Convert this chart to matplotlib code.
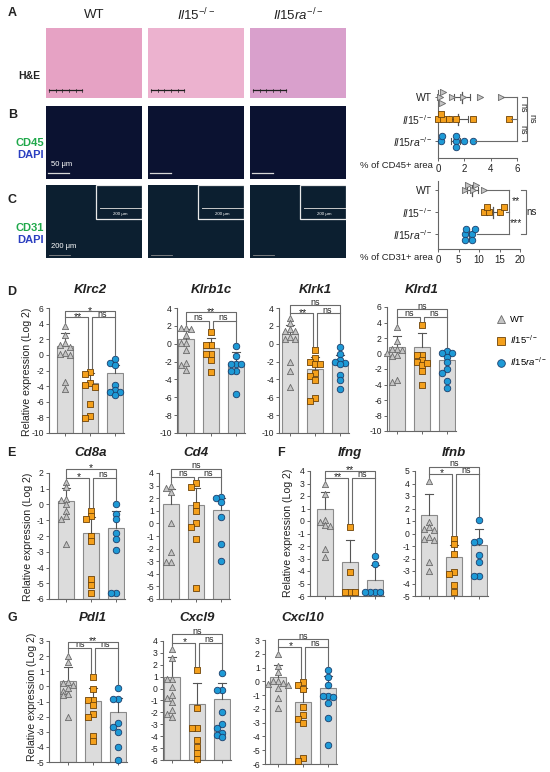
import numpy as np
import matplotlib
matplotlib.use("Agg")
import matplotlib.pyplot as plt
from matplotlib.lines import Line2D
from matplotlib.patches import Rectangle

plt.rcParams.update({
    "font.family": ["Liberation Sans", "DejaVu Sans"],
    "axes.unicode_minus": False,
    "mathtext.fontset": "custom",
    "mathtext.rm": "Liberation Sans",
    "mathtext.it": "Liberation Sans:italic",
    "mathtext.bf": "Liberation Sans:bold",
})

# ------------------------------------------------------------------ data
GROUP_LABELS = ["WT", r"$\mathit{Il15}^{-/-}$", r"$\mathit{Il15ra}^{-/-}$"]

# right-hand dot plots (% area)
CD45_WT = [0.17, 0.41, 0.3, 1.1, 1.9, 3.2, 4.8]
CD45_IL15 = [0.0, 0.37, 0.2, 0.85, 1.4, 2.65, 5.4]
CD45_IL15RA = [0.2, 0.3, 1.4, 1.4, 1.4, 1.95, 2.65]
CD45_MEAN = [1.8, 1.55, 1.35]
CD45_SEM = [0.6, 0.75, 0.35]
CD45_TICKS = [0, 2, 4, 6]

CD31_WT = [6.6, 8.6, 11.1, 7.4, 9.3]
CD31_IL15 = [11.1, 12.5, 15.2, 11.9, 16.0]
CD31_IL15RA = [6.5, 8.2, 6.9, 9.0, 6.6, 8.4]
CD31_MEAN = [8.4, 13.4, 7.6]
CD31_SEM = [1.3, 1.4, 0.8]
CD31_TICKS = [0, 5, 10, 15, 20]

# qPCR bar panels
KLRC2_WT = [3.7, 2.6, 1.5, 1.3, 1.0, 0.2, 0.1, 0.0, -3.5, -4.4]
KLRC2_IL15 = [-2.2, -2.4, -3.6, -3.8, -4.1, -6.3, -7.8, -8.1]
KLRC2_IL15RA = [-0.5, -1.0, -1.3, -3.8, -4.5, -4.7, -4.7, -5.1]
KLRC2_MEAN = [1.2, -3.6, -2.3]
KLRC2_ERR = [1.6, 1.3, 1.0]
KLRC2_BRK = [4.8, 5.6]
KLRC2_SIG = ["*", "**", "ns"]

KLRB1C_WT = [1.8, 1.8, 1.7, 1.0, 0.1, 0.1, -0.7, -2.2, -2.4, -2.9]
KLRB1C_IL15 = [1.3, -0.1, -0.1, -1.2, -1.2, -1.8, -3.2]
KLRB1C_IL15RA = [-0.2, -1.4, -2.3, -2.3, -2.3, -3.1, -3.1, -5.6]
KLRB1C_MEAN = [0.5, -0.5, -2.3]
KLRB1C_ERR = [1.2, 1.1, 1.4]
KLRB1C_BRK = [2.55, 3.5]
KLRB1C_SIG = ["**", "ns", "ns"]

KLRK1_WT = [2.9, 2.3, 1.7, 1.4, 1.4, 0.8, 0.5, 0.5, -2.0, -3.1, -4.8]
KLRK1_IL15 = [-0.7, -1.6, -2.0, -2.3, -2.3, -3.3, -3.6, -4.1, -6.1, -6.4]
KLRK1_IL15RA = [-0.4, -1.1, -1.8, -2.0, -2.2, -2.3, -3.5, -4.1, -5.1]
KLRK1_MEAN = [1.1, -2.8, -2.0]
KLRK1_ERR = [1.0, 1.3, 0.7]
KLRK1_BRK = [3.4, 4.3]
KLRK1_SIG = ["ns", "**", "ns"]

KLRD1_WT = [3.4, 1.6, 0.6, 0.6, 0.5, 0.05, -0.2, -0.3, -3.4, -3.7]
KLRD1_IL15 = [3.7, -0.2, -0.2, -0.8, -1.1, -1.5, -1.2, -2.3, -4.0]
KLRD1_IL15RA = [0.3, 0.1, 0.1, -0.5, -1.1, -2.0, -2.5, -3.5, -4.4]
KLRD1_MEAN = [0.9, 0.9, -0.9]
KLRD1_ERR = [1.4, 1.7, 1.0]
KLRD1_BRK = [4.7, 5.7]
KLRD1_SIG = ["ns", "ns", "ns"]

CD8A_WT = [1.4, 1.1, 0.35, 0.3, 0.0, -0.4, -0.7, -0.9, -2.5]
CD8A_IL15 = [-0.4, -0.7, -0.95, -2.0, -2.3, -4.7, -5.1, -5.6]
CD8A_IL15RA = [0.0, -0.6, -0.9, -1.8, -2.2, -2.9, -5.6, -5.6]
CD8A_MEAN = [0.2, -1.8, -1.5]
CD8A_ERR = [0.85, 1.0, 1.1]
CD8A_BRK = [1.68, 2.25]
CD8A_SIG = ["*", "*", "ns"]

CD4_WT = [3.0, 2.8, 2.5, 0.0, -2.3, -3.1, -3.1]
CD4_IL15 = [3.2, 2.9, 1.5, 1.0, 0.0, -0.3, -1.2, -5.1]
CD4_IL15RA = [2.1, 2.0, 1.7, 0.5, -1.6, -3.0]
CD4_MEAN = [1.55, 1.5, 1.1]
CD4_ERR = [1.2, 1.3, 0.9]
CD4_BRK = [3.7, 4.3]
CD4_SIG = ["ns", "ns", "ns"]

IFNG_WT = [3.0, 2.2, 0.1, -0.1, -0.3, -0.4, -2.2, -2.9]
IFNG_IL15 = [-0.5, -4.1, -5.7, -5.7, -5.7]
IFNG_IL15RA = [-2.8, -3.4, -5.7, -5.7, -5.7, -5.7]
IFNG_MEAN = [1.0, -3.3, -4.7]
IFNG_ERR = [1.3, 1.8, 1.2]
IFNG_BRK = [3.45, 4.0]
IFNG_SIG = ["**", "**", "ns"]

IFNB_WT = [4.2, 0.9, 0.5, 0.4, 0.3, -0.3, -0.4, -0.5, -2.3, -3.0]
IFNB_IL15 = [-0.4, -0.8, -1.6, -3.1, -3.2, -4.1, -4.7]
IFNB_IL15RA = [1.1, -0.6, -0.7, -1.7, -2.3, -3.4, -3.4]
IFNB_MEAN = [1.5, -1.9, -0.9]
IFNB_ERR = [1.7, 1.0, 1.3]
IFNB_BRK = [4.8, 5.3]
IFNB_SIG = ["ns", "*", "ns"]

PDL1_WT = [2.0, 1.6, 0.3, 0.2, 0.1, -0.1, -0.3, -0.5, -0.6, -2.0]
PDL1_IL15 = [0.6, -0.2, -0.9, -0.9, -1.25, -1.85, -2.0, -3.3, -3.6]
PDL1_IL15RA = [-0.1, -0.85, -0.85, -2.45, -2.7, -3.0, -4.0, -4.9]
PDL1_MEAN = [0.35, -0.95, -1.7]
PDL1_ERR = [0.95, 0.85, 0.9]
PDL1_BRK = [2.54, 2.93]
PDL1_SIG = ["**", "ns", "ns"]

CXCL9_WT = [3.3, 2.6, 0.8, 0.8, 0.1, -0.5, -0.8, -1.1, -1.8, -2.1, -2.4]
CXCL9_IL15 = [1.55, -1.6, -3.3, -3.3, -4.3, -4.9, -5.4, -5.9]
CXCL9_IL15RA = [1.3, -0.1, -0.1, -1.95, -3.0, -3.3, -3.7, -3.9, -4.1]
CXCL9_MEAN = [1.0, -1.3, -0.9]
CXCL9_ERR = [1.65, 1.8, 1.4]
CXCL9_BRK = [3.86, 4.56]
CXCL9_SIG = ["ns", "*", "ns"]

CXCL10_WT = [2.0, 1.1, 0.7, 0.0, 0.0, -0.1, -0.2, -0.3, -0.5, -1.2, -1.9]
CXCL10_IL15 = [-0.05, -0.3, -0.55, -1.85, -2.45, -2.75, -3.05, -5.55, -5.75]
CXCL10_IL15RA = [0.8, 0.35, -0.25, -1.05, -1.05, -1.15, -1.6, -2.65, -4.6]
CXCL10_MEAN = [0.3, -1.5, -0.5]
CXCL10_ERR = [0.9, 1.0, 0.9]
CXCL10_BRK = [2.52, 3.05]
CXCL10_SIG = ["ns", "*", "ns"]

# ------------------------------------------------------------------ styles
W, H = 550, 772
fig = plt.figure(figsize=(W / 100, H / 100), dpi=100)
fig.patch.set_facecolor("white")

BAR_FACE = "#dcdcdc"
BAR_EDGE = "#8a8a8a"
ERR_C = "#555555"
BRK_C = "#6a6a6a"
TXT_C = "#222222"
STYLES = [
    dict(marker="^", s=20, facecolor="#c4c4c4", edgecolor="#6a6a6a"),
    dict(marker="s", s=18, facecolor="#f4a01c", edgecolor="#6e4308"),
    dict(marker="o", s=22, facecolor="#1e9ad6", edgecolor="#1b3f6c"),
]


def axpx(x0, y0, x1, y1):
    return fig.add_axes([x0 / W, 1 - y1 / H, (x1 - x0) / W, (y1 - y0) / H])


def ftext(x, y, s, **kw):
    kw.setdefault("color", TXT_C)
    fig.text(x / W, 1 - y / H, s, **kw)


def swarm(vals, ppu, d=5.0, maxk=2):
    """Prism-like column placement: shift a point sideways only when it
    would sit on top of an already placed point."""
    placed, offs = [], []
    thr = (0.82 * d) ** 2
    for v in vals:
        y = v * ppu
        best, best_c = 0.0, None
        for k in [0, -1, 1, -2, 2, -3, 3][: 2 * maxk + 1]:
            x = k * d
            c = sum(1 for a, b in placed if (x - a) ** 2 + (y - b) ** 2 < thr)
            if c == 0:
                best = x
                best_c = 0
                break
            if best_c is None or c < best_c:
                best, best_c = x, c
        placed.append((best, y))
        offs.append(best)
    return np.array(offs)


# ------------------------------------------------------------------ A/B/C images
IMG_X = [46, 148, 250]
IMG_W = 96
HE_COLORS = ["#e6a2c4", "#ecb2cf", "#d9a0cc"]
B_COLOR = "#0b1231"
C_COLOR = "#0c1f30"

for j, x in enumerate(IMG_X):
    ax = axpx(x, 28, x + IMG_W, 98)
    ax.set_facecolor(HE_COLORS[j])
    ax.set_xticks([]); ax.set_yticks([])
    for s in ax.spines.values():
        s.set_visible(False)
    ax.plot([0.03, 0.38], [0.11, 0.11], transform=ax.transAxes, color="#202020", lw=0.9)
    for t in np.linspace(0.03, 0.38, 6):
        ax.plot([t, t], [0.08, 0.13], transform=ax.transAxes, color="#202020", lw=0.5)

    ax = axpx(x, 106, x + IMG_W, 179)
    ax.set_facecolor(B_COLOR)
    ax.set_xticks([]); ax.set_yticks([])
    for s in ax.spines.values():
        s.set_visible(False)
    ax.plot([0.02, 0.24], [0.085, 0.085], transform=ax.transAxes, color="#d8d8d8", lw=0.9)
    if j == 0:
        ax.text(0.05, 0.2, "50 μm", transform=ax.transAxes, color="white", fontsize=5.5, va="center")

    ax = axpx(x, 185, x + IMG_W, 258)
    ax.set_facecolor(C_COLOR)
    ax.set_xticks([]); ax.set_yticks([])
    for s in ax.spines.values():
        s.set_visible(False)
    ax.plot([0.03, 0.25], [0.045, 0.045], transform=ax.transAxes, color="#8a8a8a", lw=0.6)
    if j == 0:
        ax.text(0.05, 0.16, "200 μm", transform=ax.transAxes, color="white", fontsize=5.5, va="center")
    ax.add_patch(Rectangle((0.52, 0.54), 0.48, 0.46, transform=ax.transAxes,
                           facecolor=C_COLOR, edgecolor="#e8e8e8", lw=0.9))
    ax.plot([0.56, 1.0], [0.68, 0.68], transform=ax.transAxes, color="#c8c8c8", lw=0.7)
    ax.text(0.77, 0.6, "200 μm", transform=ax.transAxes, color="white", fontsize=3.2,
            ha="center", va="center")

ftext(8, 13, "A", fontsize=9, fontweight="bold", va="center")
for j, lab in enumerate(GROUP_LABELS):
    ftext(IMG_X[j] + IMG_W / 2, 15, lab, fontsize=9.5, ha="center", va="center")
ftext(40, 76, "H&E", fontsize=7.5, fontweight="bold", ha="right", va="center")
ftext(8, 115, "B", fontsize=9, fontweight="bold", va="center")
ftext(44, 143, "CD45", fontsize=8, fontweight="bold", ha="right", va="center", color="#1fa84a")
ftext(44, 155, "DAPI", fontsize=8, fontweight="bold", ha="right", va="center", color="#2b3fc0")
ftext(8, 200, "C", fontsize=9, fontweight="bold", va="center")
ftext(44, 228, "CD31", fontsize=8, fontweight="bold", ha="right", va="center", color="#1fa84a")
ftext(44, 240, "DAPI", fontsize=8, fontweight="bold", ha="right", va="center", color="#2b3fc0")


# ------------------------------------------------------------------ right dot plots
def dot_panel(x0, x1, top_y, bot_y, cat0_y, groups, means, sems, ticks, xlabel):
    sp = 22.0
    ax = axpx(x0, top_y, x1, bot_y)
    xmax = ticks[-1]
    ax.set_xlim(0, xmax)
    ax.set_ylim(2 + (bot_y - (cat0_y + 2 * sp)) / sp, -(cat0_y - top_y) / sp)
    ppu = (x1 - x0) / xmax
    for i, vals in enumerate(groups):
        st = dict(STYLES[i])
        if i == 0:
            st["marker"] = ">"
        offs = swarm(vals, ppu, d=5.5, maxk=1) / sp
        ax.scatter(vals, i + offs, lw=0.6, zorder=3, clip_on=False, **st)
        m, e = means[i], sems[i]
        ax.plot([m - e, m + e], [i, i], color=ERR_C, lw=0.8, zorder=2)
        for xx in (m - e, m + e):
            ax.plot([xx, xx], [i - 0.12, i + 0.12], color=ERR_C, lw=0.8, zorder=2)
        ax.plot([m, m], [i - 0.25, i + 0.25], color=ERR_C, lw=0.9, zorder=2)
    for s in ("top", "right"):
        ax.spines[s].set_visible(False)
    for s in ("left", "bottom"):
        ax.spines[s].set_color("#666666")
        ax.spines[s].set_linewidth(0.8)
    ax.set_yticks([0, 1, 2])
    ax.set_yticklabels(GROUP_LABELS, fontsize=7.5, color=TXT_C)
    ax.set_xticks(ticks)
    ax.set_xticklabels([str(t) for t in ticks], fontsize=7, color=TXT_C)
    ax.tick_params(length=2.5, width=0.7, pad=1.5, color="#666666")
    ftext(x0 - 5, bot_y + 8, xlabel, fontsize=6.8, ha="right", va="center")
    return ax


kw = dict(color=BRK_C, lw=0.8, clip_on=False, zorder=4)
ax45 = dot_panel(438, 517, 90, 158, 97, [CD45_WT, CD45_IL15, CD45_IL15RA],
                 CD45_MEAN, CD45_SEM, CD45_TICKS, "% of CD45+ area")
for i, vals in enumerate([CD45_WT, CD45_IL15, CD45_IL15RA]):
    ax45.plot([max(vals) + 0.15, 6.0], [i, i], **kw)
ax45.plot([6.0, 6.0], [0, 2], **kw)
ax45.text(6.45, 0.5, "ns", rotation=-90, ha="center", va="center", fontsize=6.5, color=TXT_C)
ax45.text(6.45, 1.5, "ns", rotation=-90, ha="center", va="center", fontsize=6.5, color=TXT_C)
ax45.plot([6.35, 6.75, 6.75, 6.35], [0, 0, 2, 2], **kw)
ax45.text(7.15, 1.0, "ns", rotation=-90, ha="center", va="center", fontsize=6.5, color=TXT_C)

ax31 = dot_panel(438, 520, 181, 249, 190, [CD31_WT, CD31_IL15, CD31_IL15RA],
                 CD31_MEAN, CD31_SEM, CD31_TICKS, "% of CD31+ area")
for i, vals in enumerate([CD31_WT, CD31_IL15, CD31_IL15RA]):
    ax31.plot([max(vals) + 0.5, 17.2], [i, i], **kw)
ax31.plot([17.2, 17.2], [0, 2], **kw)
ax31.text(18.9, 0.5, "**", ha="center", va="center", fontsize=7.5, color=TXT_C)
ax31.text(18.9, 1.5, "***", ha="center", va="center", fontsize=7.5, color=TXT_C)
ax31.plot([20.3, 21.5, 21.5, 20.3], [0, 0, 2, 2], **kw)
ax31.text(22.9, 1.0, "ns", ha="center", va="center", fontsize=7, color=TXT_C)

# ------------------------------------------------------------------ bar panels
SP, BW = 25.0, 16.0


def bar_panel(name, spine_x, bar1_x, top_y, bot_y, ylo, yhi, step,
              groups, means, errs, brk, sig, title_y):
    left = -(bar1_x - spine_x) / SP
    right = 2 + 9.0 / SP
    ax = axpx(spine_x, top_y, spine_x + (right - left) * SP, bot_y)
    ax.set_xlim(left, right)
    ax.set_ylim(ylo, yhi)
    ppu = (bot_y - top_y) / (yhi - ylo)
    ax.bar(range(3), [m - ylo for m in means], bottom=ylo, width=BW / SP,
           color=BAR_FACE, edgecolor=BAR_EDGE, linewidth=0.8, zorder=1)
    for i, (m, e) in enumerate(zip(means, errs)):
        ax.plot([i, i], [m, m + e], color=ERR_C, lw=0.8, zorder=2)
        ax.plot([i - 0.17, i + 0.17], [m + e, m + e], color=ERR_C, lw=0.8, zorder=2)
    for i, vals in enumerate(groups):
        offs = swarm(vals, ppu, d=5.2, maxk=2) / SP
        ax.scatter(i + offs, vals, lw=0.6, zorder=3, clip_on=False, **STYLES[i])
    gap = 4.0 / ppu
    tops = [max(max(g), m + e) + gap for g, m, e in zip(groups, means, errs)]
    h_in, h_out = brk
    d = 0.07
    k = dict(color=BRK_C, lw=0.8, clip_on=False, zorder=4)
    ax.plot([0, 0, 2, 2], [tops[0], h_out, h_out, tops[2]], **k)
    ax.plot([0, 1 - d, 1 - d], [h_in, h_in, tops[1]], **k)
    ax.plot([1 + d, 1 + d, 2], [tops[1], h_in, h_in], **k)

    def lab(x, y, s):
        if "*" in s:
            ax.text(x, y - 2.5 / ppu, s, ha="center", va="baseline", fontsize=7.5,
                    color=TXT_C, clip_on=False)
        else:
            ax.text(x, y + 0.8 / ppu, s, ha="center", va="baseline", fontsize=6.5,
                    color=TXT_C, clip_on=False)

    lab(1, h_out, sig[0])
    lab(0.5, h_in, sig[1])
    lab(1.5, h_in, sig[2])
    for s in ("top", "right"):
        ax.spines[s].set_visible(False)
    for s in ("left", "bottom"):
        ax.spines[s].set_color("#666666")
        ax.spines[s].set_linewidth(0.8)
    yt = np.arange(ylo, yhi + step / 2, step)
    ax.set_yticks(yt)
    ax.set_yticklabels([str(int(t)) for t in yt], fontsize=6.2, color=TXT_C)
    ax.set_xticks(range(3))
    ax.set_xticklabels([])
    ax.tick_params(length=2.5, width=0.7, pad=1.2, color="#666666")
    ftext(bar1_x + SP, title_y, name, fontsize=9.5, fontweight="bold", style="italic",
          ha="center", va="center")
    return ax


PANELS = [
    ("Klrc2", 49, 65, 308, 433, -10, 6, 2, [KLRC2_WT, KLRC2_IL15, KLRC2_IL15RA], KLRC2_MEAN, KLRC2_ERR, KLRC2_BRK, KLRC2_SIG, 290),
    ("Klrb1c", 177, 186, 308, 433, -10, 4, 2, [KLRB1C_WT, KLRB1C_IL15, KLRB1C_IL15RA], KLRB1C_MEAN, KLRB1C_ERR, KLRB1C_BRK, KLRB1C_SIG, 290),
    ("Klrk1", 279, 290, 308, 433, -10, 4, 2, [KLRK1_WT, KLRK1_IL15, KLRK1_IL15RA], KLRK1_MEAN, KLRK1_ERR, KLRK1_BRK, KLRK1_SIG, 290),
    ("Klrd1", 387, 397, 307, 431, -10, 6, 2, [KLRD1_WT, KLRD1_IL15, KLRD1_IL15RA], KLRD1_MEAN, KLRD1_ERR, KLRD1_BRK, KLRD1_SIG, 290),
    ("Cd8a", 49, 66, 473, 599, -6, 2, 1, [CD8A_WT, CD8A_IL15, CD8A_IL15RA], CD8A_MEAN, CD8A_ERR, CD8A_BRK, CD8A_SIG, 453),
    ("Cd4", 159, 171, 473, 599, -6, 4, 1, [CD4_WT, CD4_IL15, CD4_IL15RA], CD4_MEAN, CD4_ERR, CD4_BRK, CD4_SIG, 453),
    ("Ifng", 310, 325, 471, 596, -6, 4, 1, [IFNG_WT, IFNG_IL15, IFNG_IL15RA], IFNG_MEAN, IFNG_ERR, IFNG_BRK, IFNG_SIG, 453),
    ("Ifnb", 415, 429, 471, 596, -5, 5, 1, [IFNB_WT, IFNB_IL15, IFNB_IL15RA], IFNB_MEAN, IFNB_ERR, IFNB_BRK, IFNB_SIG, 453),
    ("Pdl1", 49, 68, 641, 762, -5, 3, 1, [PDL1_WT, PDL1_IL15, PDL1_IL15RA], PDL1_MEAN, PDL1_ERR, PDL1_BRK, PDL1_SIG, 618),
    ("Cxcl9", 163, 172, 641, 760, -6, 4, 1, [CXCL9_WT, CXCL9_IL15, CXCL9_IL15RA], CXCL9_MEAN, CXCL9_ERR, CXCL9_BRK, CXCL9_SIG, 618),
    ("Cxcl10", 265, 278, 640, 764, -6, 3, 1, [CXCL10_WT, CXCL10_IL15, CXCL10_IL15RA], CXCL10_MEAN, CXCL10_ERR, CXCL10_BRK, CXCL10_SIG, 618),
]
for p in PANELS:
    bar_panel(*p)

YLAB = "Relative expression (Log 2)"
for (x, y) in [(27, 372), (28, 537), (288, 533), (32, 697)]:
    ftext(x, y, YLAB, fontsize=7.6, rotation=90, ha="center", va="center")

ftext(7, 292, "D", fontsize=9, fontweight="bold", va="center")
ftext(7, 453, "E", fontsize=9, fontweight="bold", va="center")
ftext(277, 453, "F", fontsize=9, fontweight="bold", va="center")
ftext(8, 618, "G", fontsize=9, fontweight="bold", va="center")

handles = [Line2D([], [], linestyle="none", marker=STYLES[i]["marker"], markersize=5.5,
                  markerfacecolor=STYLES[i]["facecolor"], markeredgecolor=STYLES[i]["edgecolor"],
                  markeredgewidth=0.6) for i in range(3)]
fig.legend(handles, GROUP_LABELS, loc="upper left", bbox_to_anchor=(496 / W, 1 - 315 / H),
           frameon=False, fontsize=6.8, handlelength=1.0, handletextpad=0.5,
           labelspacing=1.0, borderpad=0, borderaxespad=0)

fig.savefig("out.png", dpi=100)
